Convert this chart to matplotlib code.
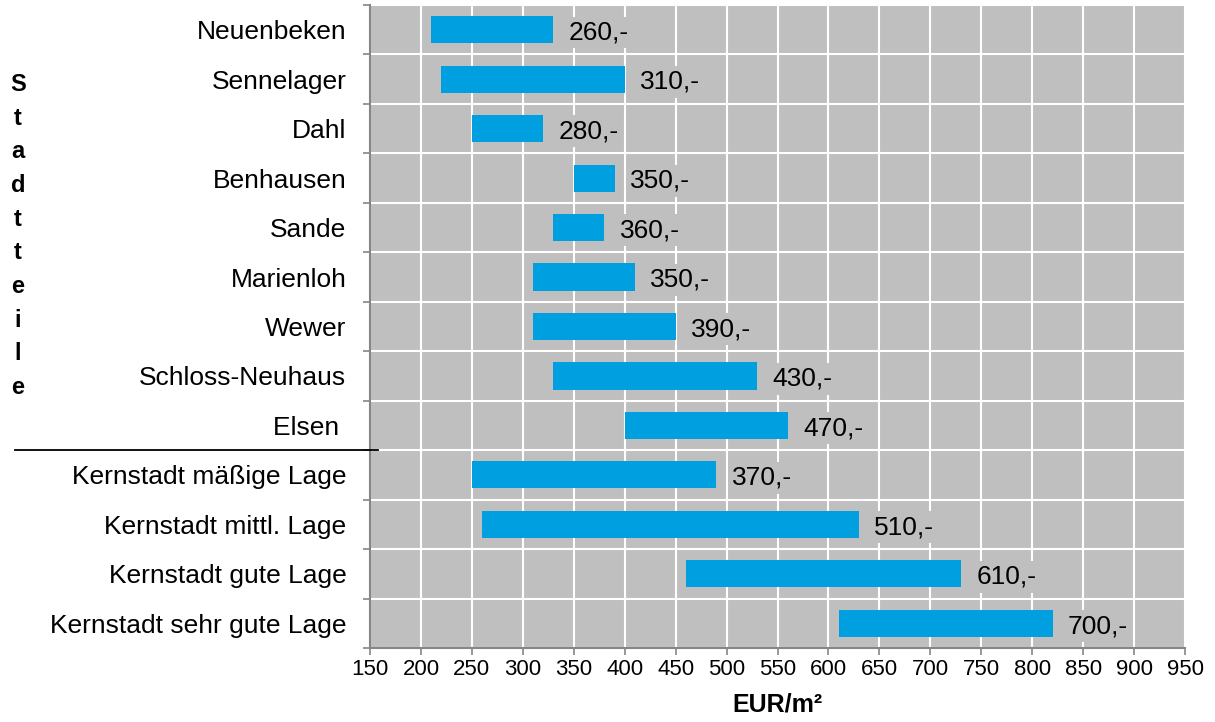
import matplotlib.pyplot as plt
from matplotlib.lines import Line2D
from matplotlib.ticker import FixedLocator

plt.rcParams['font.family'] = ['Liberation Sans', 'DejaVu Sans']

# Daten: Bodenrichtwerte je Stadtteil (von - bis) und Beschriftung
stadtteile = ["Neuenbeken", "Sennelager", "Dahl", "Benhausen", "Sande", "Marienloh",
              "Wewer", "Schloss-Neuhaus", "Elsen ", "Kernstadt mäßige Lage",
              "Kernstadt mittl. Lage", "Kernstadt gute Lage", "Kernstadt sehr gute Lage"]
von = [210, 220, 250, 350, 330, 310, 310, 330, 400, 250, 260, 460, 610]
bis = [330, 400, 320, 390, 380, 410, 450, 530, 560, 490, 630, 730, 820]
werte = ["260,-", "310,-", "280,-", "350,-", "360,-", "350,-", "390,-",
         "430,-", "470,-", "370,-", "510,-", "610,-", "700,-"]
x_ticks = list(range(150, 951, 50))

bg = "#bfbfbf"
bar_col = "#009fe0"
axis_col = "#868686"

fig = plt.figure(figsize=(12.15, 7.22), dpi=100)
ax = fig.add_axes([370 / 1215, 1 - 648 / 722, 815 / 1215, 643 / 722])
ax.set_facecolor(bg)

y = list(range(len(stadtteile)))
breiten = [b - a for a, b in zip(von, bis)]
ax.barh(y, breiten, left=von, height=0.55, color=bar_col, zorder=3)

for i in y:
    ax.annotate(werte[i], xy=(bis[i], i), xytext=(11, -2), textcoords="offset points",
                va="center", ha="left", fontsize=19, zorder=4,
                bbox=dict(boxstyle="square,pad=0.15", fc=bg, ec="none"))

ax.set_xlim(150, 950)
ax.set_ylim(len(stadtteile) - 0.5, -0.5)
ax.set_xticks(x_ticks)
ax.set_yticks(y)
ax.set_yticklabels(stadtteile, fontsize=19)
ax.yaxis.set_minor_locator(FixedLocator([i - 0.5 for i in range(len(stadtteile) + 1)]))

ax.grid(True, axis="x", which="major", color="white", lw=1.5, zorder=1)
ax.grid(True, axis="y", which="minor", color="white", lw=1.5, zorder=1)
ax.set_axisbelow(True)

ax.tick_params(axis="x", which="major", direction="out", length=5, width=1.2,
               color=axis_col, labelsize=16, pad=3)
ax.tick_params(axis="y", which="major", length=0, pad=17)
ax.tick_params(axis="y", which="minor", direction="out", length=5, width=1.2, color=axis_col)

for s in ["top", "right"]:
    ax.spines[s].set_visible(False)
for s in ["left", "bottom"]:
    ax.spines[s].set_color(axis_col)
    ax.spines[s].set_linewidth(1.5)

ax.set_xlabel("EUR/m²", fontsize=18, fontweight="bold", labelpad=9)

fig.text(18 / 1215, 1 - 236 / 722, "\n".join("Stadtteile"), ha="center", va="center",
         fontsize=17, fontweight="bold", linespacing=1.59)

fig.add_artist(Line2D([15 / 1215, 378 / 1215], [1 - 450 / 722, 1 - 450 / 722],
                      color="black", lw=1.3, transform=fig.transFigure))

fig.savefig("out.png", dpi=100)
